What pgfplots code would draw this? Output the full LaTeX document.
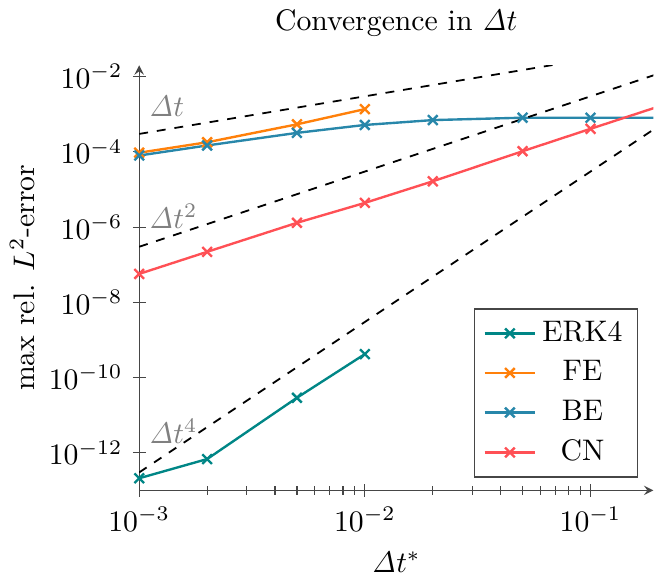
\documentclass[border=0pt]{standalone}
\usepackage{pgfplots}
\pgfplotsset{compat=1.18}
\definecolor{cERK}{RGB}{0,134,134}
\definecolor{cFE}{RGB}{255,128,10}
\definecolor{cBE}{RGB}{40,135,170}
\definecolor{cCN}{RGB}{255,80,85}
\definecolor{axgray}{RGB}{70,70,70}
\begin{document}
\begin{tikzpicture}
\begin{loglogaxis}[
  scale only axis,
  width=173pt, height=143pt,
  xmin=1e-3, xmax=0.19,
  ymin=1e-13, ymax=2e-2,
  axis lines=left,
  axis line style={axgray},
  every tick/.style={axgray},
  ytick={1e-12,1e-10,1e-8,1e-6,1e-4,1e-2},
  xtick={1e-3,1e-2,1e-1},
  title={Convergence in $\mathit{\Delta} t$},
  xlabel={$\mathit{\Delta} t^*$},
  ylabel={max rel. $L^2$-error},
  ylabel style={yshift=-2pt},
  legend pos=south east,
  legend cell align=center,
  legend style={draw=axgray, row sep=1pt},
  clip=true,
  every axis plot/.append style={thick, mark=x, mark size=2.3pt},
]
\addplot[cERK] coordinates {(0.001,2.1e-13) (0.002,6.8e-13) (0.005,2.9e-11) (0.01,4.2e-10)};
\addlegendentry{ERK4}
\addplot[cFE] coordinates {(0.001,9.5e-5) (0.002,1.8e-4) (0.005,5.4e-4) (0.01,1.37e-3)};
\addlegendentry{FE}
\addplot[cBE] coordinates {(0.001,8.0e-5) (0.002,1.48e-4) (0.005,3.2e-4) (0.01,5.2e-4) (0.02,7.0e-4) (0.05,8.1e-4) (0.1,8.1e-4) (0.2,8.1e-4)};
\addlegendentry{BE}
\addplot[cCN] coordinates {(0.001,5.7e-8) (0.002,2.2e-7) (0.005,1.3e-6) (0.01,4.4e-6) (0.02,1.65e-5) (0.05,1.04e-4) (0.1,4.1e-4) (0.2,1.6e-3)};
\addlegendentry{CN}
\addplot[black, dashed, semithick, no markers, forget plot] coordinates {(0.001,3e-4) (0.2,6e-2)};
\addplot[black, dashed, semithick, no markers, forget plot] coordinates {(0.001,3e-7) (0.2,1.2e-2)};
\addplot[black, dashed, semithick, no markers, forget plot] coordinates {(0.001,3e-13) (0.2,4.8e-4)};
\node[gray, anchor=base west, inner sep=0pt] at (axis cs:1.1e-3,8.5e-4) {$\mathit{\Delta} t$};
\node[gray, anchor=base west, inner sep=0pt] at (axis cs:1.1e-3,9.3e-7) {$\mathit{\Delta} t^2$};
\node[gray, anchor=base west, inner sep=0pt] at (axis cs:1.1e-3,1.8e-12) {$\mathit{\Delta} t^4$};
\end{loglogaxis}
\end{tikzpicture}
\end{document}
